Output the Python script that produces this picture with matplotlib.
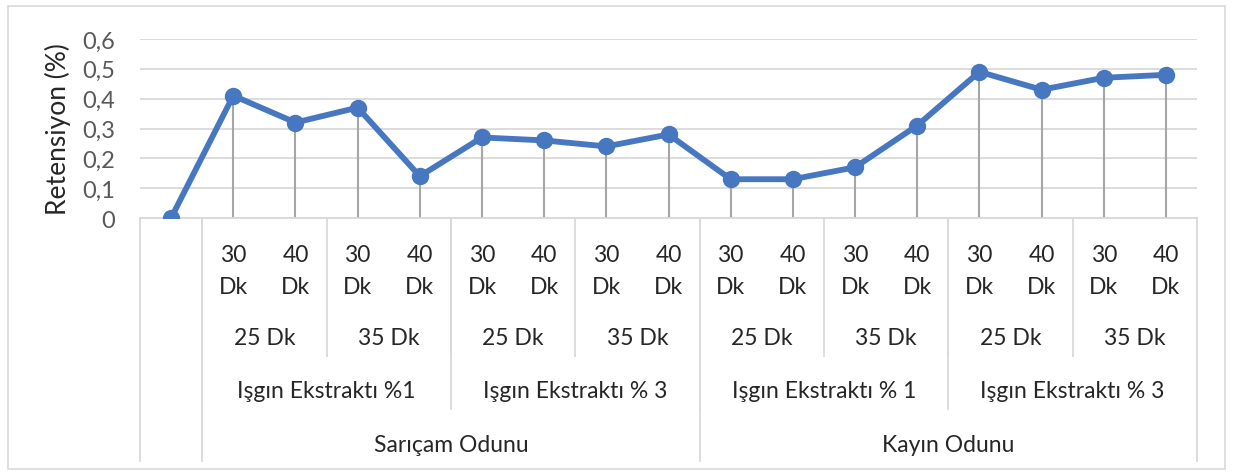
import matplotlib
matplotlib.use("Agg")
import matplotlib.pyplot as plt
from matplotlib.transforms import blended_transform_factory
from matplotlib.patches import Rectangle

# ----------------------------------------------- DATA -------------------------------------------------#
retention = [0, 0.41, 0.32, 0.37, 0.14, 0.27, 0.26, 0.24, 0.28,
             0.13, 0.13, 0.17, 0.31, 0.49, 0.43, 0.47, 0.48]
time_labels = ["", "30 Dk", "40 Dk", "30 Dk", "40 Dk", "30 Dk", "40 Dk", "30 Dk", "40 Dk",
               "30 Dk", "40 Dk", "30 Dk", "40 Dk", "30 Dk", "40 Dk", "30 Dk", "40 Dk"]
temp_labels = ["25 Dk", "35 Dk", "25 Dk", "35 Dk", "25 Dk", "35 Dk", "25 Dk", "35 Dk"]
extract_labels = ["Işgın Ekstraktı %1", "Işgın Ekstraktı % 3", "Işgın Ekstraktı % 1", "Işgın Ekstraktı % 3"]
wood_labels = ["Sarıçam Odunu", "Kayın Odunu"]
y_ticks = [0, 0.1, 0.2, 0.3, 0.4, 0.5, 0.6]
y_tick_labels = ["0", "0,1", "0,2", "0,3", "0,4", "0,5", "0,6"]

# ----------------------------------------------- STYLE -------------------------------------------------#
plt.rcParams['font.family'] = ['Lato', 'DejaVu Sans']
W, H = 1233, 477
LINE_BLUE = "#4677C0"
GRID = "#D9D9D9"
TEXT = "#262626"
CAT_FS = 16.5


def fy(py):
    """pixel from top -> figure fraction"""
    return 1 - py / H


fig = plt.figure(figsize=(W / 100, H / 100), dpi=100)
ax = fig.add_axes([140 / W, fy(219), (1197 - 140) / W, (219 - 40) / H])

x = list(range(len(retention)))
ax.vlines(x[1:], 0, retention[1:], color="#A6A6A6", lw=1.5, zorder=2)
ax.plot(x, retention, color=LINE_BLUE, lw=4.2, marker="o", markersize=11.5, zorder=3)

ax.set_xlim(-0.5, len(retention) - 0.5)
ax.set_ylim(0, 0.6)
ax.set_yticks(y_ticks)
ax.set_yticklabels(y_tick_labels, fontsize=17, color="#595959")
ax.tick_params(axis="y", length=0, pad=18)
ax.set_xticks([])
ax.yaxis.grid(True, color=GRID, lw=1.3)
ax.set_axisbelow(True)
for s in ax.spines.values():
    s.set_visible(False)
fig.text(58 / W, fy(129), "Retensiyon (%)", rotation=90, ha="center", va="center",
         fontsize=19, color=TEXT)

# ----------------------------------------------- CATEGORY TABLE -------------------------------------------------#
tr = blended_transform_factory(ax.transData, fig.transFigure)


def vline(xd, bottom_px):
    ax.add_line(plt.Line2D([xd, xd], [fy(219), fy(bottom_px)], transform=tr,
                           color=GRID, lw=1.3, clip_on=False))


ax.add_line(plt.Line2D([-0.5, len(retention) - 0.5], [fy(219), fy(219)], transform=tr,
                       color=GRID, lw=1.3, clip_on=False))

# row 1: time labels
for i, lab in enumerate(time_labels):
    if lab:
        a, b = lab.split()
        ax.text(i, fy(255), a, transform=tr, ha="center", va="center", fontsize=CAT_FS, color=TEXT)
        ax.text(i, fy(287), b, transform=tr, ha="center", va="center", fontsize=CAT_FS, color=TEXT)

# row 2: 25/35 Dk, each spans 2
for j, lab in enumerate(temp_labels):
    c = 1 + 2 * j + 0.5
    ax.text(c, fy(339), lab, transform=tr, ha="center", va="center", fontsize=CAT_FS, color=TEXT)
    vline(0.5 + 2 * j, 357)

# row 3: extract, spans 4
for j, lab in enumerate(extract_labels):
    c = 1 + 4 * j + 1.5
    ax.text(c, fy(392), lab, transform=tr, ha="center", va="center", fontsize=CAT_FS, color=TEXT)
    vline(0.5 + 4 * j, 410)

# row 4: wood, spans 8
for j, lab in enumerate(wood_labels):
    c = 1 + 8 * j + 3.5
    ax.text(c, fy(445), lab, transform=tr, ha="center", va="center", fontsize=CAT_FS, color=TEXT)
    vline(0.5 + 8 * j, 462)

vline(-0.5, 462)
vline(len(retention) - 0.5, 462)

# outer chart border
fig.patches.append(Rectangle((8 / W, fy(470)), (1225 - 8) / W, (470 - 7) / H,
                             transform=fig.transFigure, fill=False, edgecolor=GRID, lw=1.2))

fig.savefig("out.png", dpi=100)
